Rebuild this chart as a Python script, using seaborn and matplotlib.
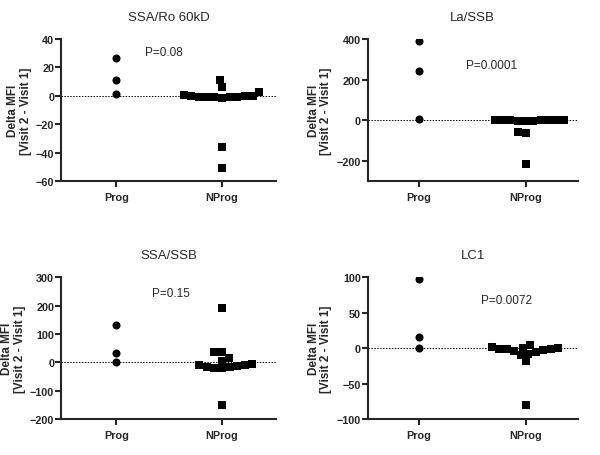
import numpy as np
import pandas as pd
import matplotlib
matplotlib.use("Agg")
import matplotlib.pyplot as plt
import seaborn as sns

sns.set_style("ticks")
plt.rcParams["font.family"] = ["Liberation Sans", "DejaVu Sans"]

groups = ["Prog", "NProg"]
titles = ["SSA/Ro 60kD", "La/SSB", "SSA/SSB", "LC1"]
pvals = ["P=0.08", "P=0.0001", "P=0.15", "P=0.0072"]

ro60_prog = [27, 11, 1]
ro60_nprog = [11, 6, 3, 0.5, 0, -0.5, -1, 0, -0.5, -1, -1.5, 0, -0.5, -36, -51]
la_prog = [390, 245, 5]
la_nprog = [2, 0, -3, 3, 0, -5, 0, 2, -2, 0, -58, -62, -215]
ssa_ssb_prog = [130, 33, 0]
ssa_ssb_nprog = [190, 35, 35, 15, 5, -5, -10, -12, -18, -15, -20, -22, -10, -150]
lc1_prog = [97, 15, 0]
lc1_nprog = [2, 4, 0, -2, -3, -5, -8, -10, -4, -2, -1, 0, -18, -80]

prog_data = [ro60_prog, la_prog, ssa_ssb_prog, lc1_prog]
nprog_data = [ro60_nprog, la_nprog, ssa_ssb_nprog, lc1_nprog]

ylims = [(-60, 40), (-300, 400), (-200, 300), (-100, 100)]
yticks = [np.arange(-60, 41, 20), np.arange(-200, 401, 200),
          np.arange(-200, 301, 100), np.arange(-100, 101, 50)]
xlims = [(-0.52, 1.51), (-0.48, 1.49), (-0.52, 1.51), (-0.48, 1.49)]
ptext_pos = [(0.48, 0.91), (0.59, 0.82), (0.51, 0.89), (0.66, 0.84)]

# axes boxes in figure fraction [left, bottom, width, height]
boxes = [[0.102, 0.601, 0.358, 0.311], [0.613, 0.601, 0.350, 0.311],
         [0.102, 0.079, 0.358, 0.311], [0.613, 0.079, 0.350, 0.311]]

fig = plt.figure(figsize=(6, 4.56), dpi=100)

for i in range(4):
    ax = fig.add_axes(boxes[i])
    df_p = pd.DataFrame({"group": "Prog", "value": prog_data[i]})
    df_n = pd.DataFrame({"group": "NProg", "value": nprog_data[i]})
    ax.axhline(0, color="black", lw=0.7, ls=(0, (1.5, 1.5)), zorder=0)
    sns.swarmplot(data=df_p, x="group", y="value", order=groups, marker="o",
                  color="black", size=5.8, ax=ax)
    sns.swarmplot(data=df_n, x="group", y="value", order=groups, marker="s",
                  color="black", size=5.3, ax=ax)
    ax.set_xlim(*xlims[i])
    ax.set_ylim(*ylims[i])
    ax.set_yticks(yticks[i])
    ax.set_xlabel("")
    ax.set_ylabel("Delta MFI\n[Visit 2 - Visit 1]", fontsize=8.5, fontweight="bold",
                  labelpad=3, linespacing=1.05)
    ax.set_title(titles[i], fontsize=9.5, pad=14)
    ax.text(*ptext_pos[i], pvals[i], transform=ax.transAxes, fontsize=8.5,
            ha="center", va="center")
    sns.despine(ax=ax)
    for s in ["left", "bottom"]:
        ax.spines[s].set_linewidth(1.5)
    ax.tick_params(axis="y", width=1.5, length=4, labelsize=7.8, pad=1)
    ax.tick_params(axis="x", width=1.5, length=4, labelsize=7.8, pad=4)
    for lab in ax.get_xticklabels() + ax.get_yticklabels():
        lab.set_fontweight("bold")

fig.savefig("out.png", dpi=100)
